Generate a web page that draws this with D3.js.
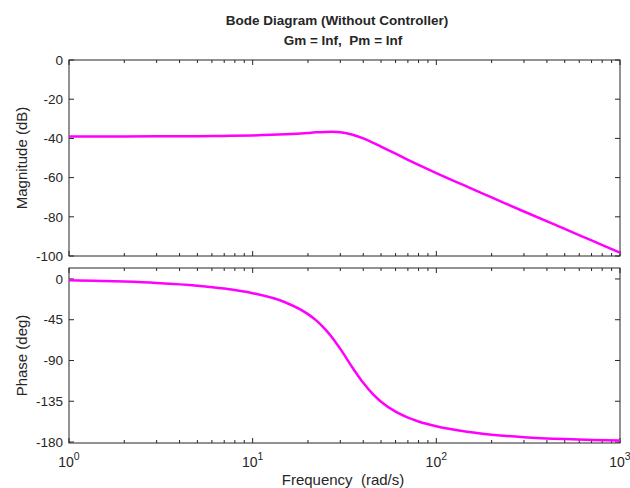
<!DOCTYPE html>
<meta charset="utf-8">
<script src="https://d3js.org/d3.v7.min.js"></script>
<style>
  body { margin: 0; background: #fff; }
  text { font-family: "Liberation Sans", Arial, sans-serif; fill: #262626; }
</style>
<div id="vis"></div>
<script type="text/javascript">

// values
var freqs = [1, 2, 3, 5, 7, 10, 15, 20, 22, 25, 27, 30, 35, 40, 45, 50, 60, 70, 80, 100, 150, 200, 300, 500, 700, 1000];
var magDb = [-39.0, -38.98, -38.95, -38.87, -38.75, -38.49, -37.9, -37.2, -36.9, -36.7, -36.65, -36.9, -38.1, -40.0, -42.1, -44.2, -47.8, -50.9, -53.5, -57.7, -65.0, -70.1, -77.3, -86.2, -92.05, -98.25];
var phaseDeg = [-1.5, -2.9, -4.4, -7.4, -10.6, -15.7, -25.7, -38.8, -45.2, -56.2, -64.3, -77.2, -98.0, -114.7, -126.9, -135.5, -146.5, -153.0, -157.3, -162.7, -169.0, -171.9, -174.7, -176.8, -177.7, -178.4];

var magTicks = [0, -20, -40, -60, -80, -100];
var phaseTicks = [0, -45, -90, -135, -180];
var decades = [1, 10, 100, 1000];
var decadeExp = ["0", "1", "2", "3"];

var titleLines = ["Bode Diagram (Without Controller)", "Gm = Inf,  Pm = Inf"];

var width = 630, height = 488;
var left = 69, right = 620;
var magTop = 60, magBottom = 256;
var phTop = 268, phBottom = 443;

var svg = d3.select("#vis")
  .append("svg")
    .attr("width", width)
    .attr("height", height);

var x = d3.scaleLog()
  .domain([1, 1000])
  .range([left, right]);

var yMag = d3.scaleLinear()
  .domain([-100, 0])
  .range([magBottom, magTop]);

var yPh = d3.scaleLinear()
  .domain([-181.1, 12.1])
  .range([phBottom, phTop]);

var minor = [];
for (var k = 0; k < 3; k++) {
  for (var m = 2; m <= 9; m++) minor.push(m * decades[k]);
}

var axisColor = "#262626";

function panel(y, ticks, top, bottom) {
  var g = svg.append("g");

  g.append("rect")
    .attr("x", left)
    .attr("y", top)
    .attr("width", right - left)
    .attr("height", bottom - top)
    .attr("fill", "none")
    .attr("stroke", axisColor)
    .attr("stroke-width", 1);

  // x ticks, inward on bottom and top
  [[bottom, -1], [top, 1]].forEach(function(p) {
    g.selectAll(null).data(decades).enter().append("line")
      .attr("x1", d => x(d)).attr("x2", d => x(d))
      .attr("y1", p[0]).attr("y2", p[0] + p[1] * 5)
      .attr("stroke", axisColor);
    g.selectAll(null).data(minor).enter().append("line")
      .attr("x1", d => x(d)).attr("x2", d => x(d))
      .attr("y1", p[0]).attr("y2", p[0] + p[1] * 3)
      .attr("stroke", axisColor);
  });

  // y ticks, inward on left and right
  [[left, 1], [right, -1]].forEach(function(p) {
    g.selectAll(null).data(ticks).enter().append("line")
      .attr("x1", p[0]).attr("x2", p[0] + p[1] * 5)
      .attr("y1", d => y(d)).attr("y2", d => y(d))
      .attr("stroke", axisColor);
  });

  g.selectAll(null).data(ticks).enter().append("text")
    .attr("x", left - 6)
    .attr("y", d => y(d))
    .attr("dy", "0.35em")
    .attr("text-anchor", "end")
    .style("font-size", "13.5px")
    .text(d => d);
}

panel(yMag, magTicks, magTop, magBottom);
panel(yPh, phaseTicks, phTop, phBottom);

// curves
var magData = freqs.map((f, i) => ({f: f, v: magDb[i]}));
var phData = freqs.map((f, i) => ({f: f, v: phaseDeg[i]}));

svg.append("path")
  .datum(magData)
  .attr("fill", "none")
  .attr("stroke", "#ff00ff")
  .attr("stroke-width", 2.5)
  .attr("d", d3.line()
    .curve(d3.curveMonotoneX)
    .x(d => x(d.f))
    .y(d => yMag(d.v)));

svg.append("path")
  .datum(phData)
  .attr("fill", "none")
  .attr("stroke", "#ff00ff")
  .attr("stroke-width", 2.5)
  .attr("d", d3.line()
    .curve(d3.curveMonotoneX)
    .x(d => x(d.f))
    .y(d => yPh(d.v)));

// x tick labels 10^n
var xl = svg.selectAll(null).data(decades).enter().append("text")
  .attr("x", d => x(d))
  .attr("y", 467)
  .attr("text-anchor", "middle")
  .style("font-size", "14px");
xl.append("tspan").text("10");
xl.append("tspan")
  .attr("dy", -7)
  .style("font-size", "10.5px")
  .text((d, i) => decadeExp[i]);

// titles and labels
svg.append("text")
  .attr("x", 337).attr("y", 25)
  .attr("text-anchor", "middle")
  .style("font-size", "13.5px").style("font-weight", "bold")
  .text(titleLines[0]);
svg.append("text")
  .attr("x", 343).attr("y", 45)
  .attr("text-anchor", "middle")
  .style("font-size", "13.5px").style("font-weight", "bold")
  .style("white-space", "pre")
  .text(titleLines[1]);

svg.append("text")
  .attr("x", 343).attr("y", 485)
  .attr("text-anchor", "middle")
  .style("font-size", "15px")
  .style("white-space", "pre")
  .text("Frequency  (rad/s)");

svg.append("text")
  .attr("transform", "translate(27," + (magTop + magBottom) / 2 + ") rotate(-90)")
  .attr("text-anchor", "middle")
  .style("font-size", "15px")
  .text("Magnitude (dB)");

svg.append("text")
  .attr("transform", "translate(27," + (phTop + phBottom) / 2 + ") rotate(-90)")
  .attr("text-anchor", "middle")
  .style("font-size", "15px")
  .text("Phase (deg)");

</script>
